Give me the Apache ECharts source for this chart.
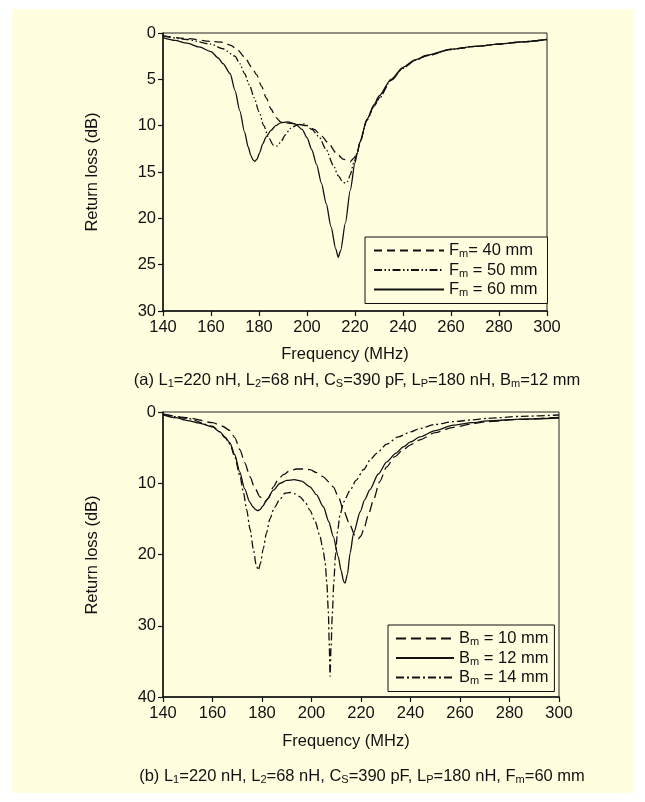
<!DOCTYPE html>
<html><head><meta charset="utf-8">
<script src="https://cdn.jsdelivr.net/npm/echarts@6/dist/echarts.min.js"></script>
<style>
html,body{margin:0;padding:0;background:#fff;}
#bg{position:absolute;left:12px;top:9px;width:621px;height:784px;background:#FFFFE0;}
#chart{position:absolute;left:0;top:0;width:645px;height:802px;}
</style></head><body>
<div id="bg"></div><div id="chart"></div>
<script>
// ---------- data: panel (a) ----------
const fm40Freq = [140,150,160,165,168,171,174,177,179,181,183,185,187,189,191,195,200,203,206,209,212,215,218,219.5,221,222,225,228,230,235,240,245,250,260,270,280,290,300];
const fm40Loss = [0.3,0.6,0.9,1.0,1.3,1.8,2.6,3.7,4.5,5.7,7.0,8.2,9.1,9.6,9.7,9.8,10.0,10.4,11.1,11.9,12.9,13.6,13.9,13.5,12.9,11.8,9.4,7.8,7.0,5.1,3.8,2.95,2.45,1.78,1.45,1.2,0.95,0.7];
const fm50Freq = [140,150,160,165,170,172,174,176,178,180,182,184,186,187.5,189,191,193,196,199,202,205,208,211,213,215,216,217,218,219.5,221,222,225,228,230,235,240,245,250,260,270,280,290,300];
const fm50Loss = [0.3,0.7,1.2,1.7,2.5,3.3,4.4,5.6,7.0,8.5,10.0,11.3,12.1,12.2,11.8,11.0,10.3,9.9,9.8,10.4,11.2,12.6,14.3,15.4,16.1,16.2,16.0,15.3,14.0,12.9,11.8,9.4,7.9,7.1,5.1,3.8,2.95,2.45,1.78,1.45,1.2,0.95,0.7];
const fm60Freq = [140,145,150,155,160,163,165,168,170,172,174,175.5,176.6,177.5,178.3,179.2,180.3,181.5,183,185,187,189,192,195,198,200,202,204,206,208,210,212,213,214,216,218,220,221,222,225,228,230,235,240,245,250,260,270,280,290,300];
const fm60Loss = [0.5,0.8,1.1,1.5,2.0,2.7,3.3,4.4,6.2,8.4,10.7,12.3,13.2,13.7,13.85,13.6,12.9,12.0,11.2,10.5,10.0,9.7,9.6,9.8,10.4,11.3,12.6,14.2,16.2,18.4,20.9,23.3,24.2,23.5,20.5,17.0,14.0,12.9,11.8,9.3,7.7,6.8,5.0,3.7,2.9,2.4,1.75,1.45,1.2,0.95,0.7];

// ---------- data: panel (b) ----------
const bm10Freq = [140,150,160,164,167.1,169,171.1,173,175.2,177,179.2,181.2,182.6,184.6,186.5,188.6,191,194,197,199.4,202,204.8,207,208.8,211,212.9,215.6,217.5,218.9,220,221,223,225,227.5,230.4,233.5,237.1,240,243.8,250,257.3,265,270.8,284.2,300];
const bm10Loss = [0.3,0.8,1.5,2.0,2.6,3.6,5.3,7.1,9.1,10.6,11.9,12.6,12.1,10.5,9.5,8.8,8.3,8.0,8.0,8.1,8.5,9.1,9.8,10.5,12.0,13.8,15.9,17.3,17.8,17.4,16.6,14.4,12.4,9.8,7.7,6.3,5.3,4.6,3.9,2.9,2.15,1.65,1.36,1.03,0.75];
const bm12Freq = [140,145,150,155,160,163,165,167,169,171,173,175,176.3,177.4,178.3,179.2,180.3,182,184.5,187.3,190,193,196,199.4,202,204.8,207,208.8,210.8,212,213,213.6,214.5,215.6,217,219.7,221.5,223.6,227,230.4,234,237.1,240,243.8,250,257.3,265,270.8,285,300];
const bm12Loss = [0.4,0.8,1.2,1.6,2.1,2.8,3.5,4.3,6.0,8.4,10.8,12.6,13.3,13.7,13.85,13.7,13.2,12.3,11.0,10.0,9.6,9.5,9.7,10.5,11.6,13.3,15.4,17.5,20.3,22.3,23.8,24.0,22.8,19.8,17.0,14.0,12.3,10.9,8.7,7.0,5.8,4.9,4.2,3.5,2.6,1.85,1.5,1.25,1.0,0.84];
const bm14Freq = [140,150,160,163,165,167.1,169,171.1,172.5,173.8,175.2,176.5,177.6,178.5,179.4,180.5,181.8,183.2,185,187.3,189.3,191.3,193.5,195.4,197.5,199.4,201.5,203.4,204.6,205.5,206.2,206.8,207.2,207.5,207.9,208.4,209,209.7,210.5,211.5,213,215.6,218,221,224,226.3,230.4,235,240,243.9,250,257.3,265,270.8,285,300];
const bm14Loss = [0.3,0.9,2.0,2.8,3.6,4.5,6.3,9.0,11.3,13.7,16.5,19.2,21.4,22.2,21.2,19.2,17.0,15.0,13.4,12.2,11.4,11.3,11.5,11.9,12.7,13.8,15.4,17.4,19.2,21.0,24.0,28.0,33.0,37.1,33.0,28.5,24.0,20.0,16.8,14.5,12.6,11.0,9.6,8.1,6.6,5.8,4.5,3.5,2.8,2.3,1.75,1.36,1.1,0.9,0.6,0.42];

// ---------- labels ----------
const xTitle = 'Frequency (MHz)';
const yTitle = 'Return loss (dB)';
const legendA = {Fm40: '{t|F}{s|m}{t|= 40 mm}', Fm50: '{t|F}{s|m}{t| = 50 mm}', Fm60: '{t|F}{s|m}{t| = 60 mm}'};
const legendB = {Bm10: '{t|B}{s|m}{t| = 10 mm}', Bm12: '{t|B}{s|m}{t| = 12 mm}', Bm14: '{t|B}{s|m}{t| = 14 mm}'};
const captionA = '{t|(a) L}{s|1}{t|=220 nH, L}{s|2}{t|=68 nH, C}{s|S}{t|=390 pF, L}{s|P}{t|=180 nH, B}{s|m}{t|=12 mm}';
const captionB = '{t|(b) L}{s|1}{t|=220 nH, L}{s|2}{t|=68 nH, C}{s|S}{t|=390 pF, L}{s|P}{t|=180 nH, F}{s|m}{t|=60 mm}';

const FONT = 'Liberation Sans, Arial, sans-serif';
const INK = '#111';
const zip = (a, b) => a.map((v, i) => [v, b[i]]);
const richText = {
  t: {fontSize: 16.5, lineHeight: 18, fontFamily: FONT, color: INK},
  s: {fontSize: 11, lineHeight: 10, verticalAlign: 'bottom', fontFamily: FONT, color: INK}
};
const capRich = {
  t: {fontSize: 16.5, lineHeight: 18, fontFamily: FONT, fill: INK, color: INK},
  s: {fontSize: 11, lineHeight: 10, verticalAlign: 'bottom', fontFamily: FONT, fill: INK, color: INK}
};

function xAx(gi) {
  return {
    type: 'value', gridIndex: gi, min: 140, max: 300, interval: 20,
    axisLine: {show: true, onZero: false, lineStyle: {color: INK, width: 1.5}},
    axisTick: {show: true, inside: false, length: 5, lineStyle: {color: INK, width: 1.2}},
    axisLabel: {color: INK, fontSize: 16.5, fontFamily: FONT, margin: 8},
    splitLine: {show: false}
  };
}
function yAx(gi, max, interval) {
  return {
    type: 'value', gridIndex: gi, min: 0, max: max, interval: interval, inverse: true,
    axisLine: {show: true, onZero: false, lineStyle: {color: INK, width: 1.5}},
    axisTick: {show: true, inside: false, length: 5, lineStyle: {color: INK, width: 1.2}},
    axisLabel: {color: INK, fontSize: 16.5, fontFamily: FONT, margin: 7},
    splitLine: {show: false}
  };
}
function line(name, gi, f, l, dash) {
  return {
    name: name, type: 'line', xAxisIndex: gi, yAxisIndex: gi,
    data: zip(f, l), symbol: 'none', showSymbol: false, smooth: 0.25, smoothMonotone: 'x',
    lineStyle: {color: INK, width: 1.3, type: dash},
    itemStyle: {color: INK},
    emphasis: {disabled: true}, animation: false
  };
}
function legend(names, map, left, top, itemWidth, pad) {
  return {
    data: names, orient: 'vertical', left: left, top: top,
    itemWidth: itemWidth, itemHeight: 14, itemGap: 2, padding: pad,
    borderColor: INK, borderWidth: 1, backgroundColor: '#FFFFE0',
    selectedMode: false,
    itemStyle: {color: 'rgba(0,0,0,0)', borderColor: 'rgba(0,0,0,0)', borderWidth: 0, opacity: 0},
    formatter: n => map[n],
    textStyle: {fontSize: 16.5, fontFamily: FONT, color: INK, rich: richText}
  };
}

const chart = echarts.init(document.getElementById('chart'), null, {renderer: 'canvas'});
chart.setOption({
  animation: false,
  backgroundColor: 'transparent',
  grid: [
    {left: 163, top: 33, width: 384, height: 278, show: true, borderColor: '#222', borderWidth: 1, backgroundColor: 'transparent', containLabel: false, outerBoundsMode: 'none'},
    {left: 163, top: 412, width: 396, height: 285, show: true, borderColor: '#222', borderWidth: 1, backgroundColor: 'transparent', containLabel: false, outerBoundsMode: 'none'}
  ],
  xAxis: [xAx(0), xAx(1)],
  yAxis: [yAx(0, 30, 5), yAx(1, 40, 10)],
  legend: [
    legend(['Fm40', 'Fm50', 'Fm60'], legendA, 365, 237, 70, [5, 10, 5, 8]),
    legend(['Bm10', 'Bm12', 'Bm14'], legendB, 388, 625, 58, [5, 6, 5, 7])
  ],
  series: [
    line('Fm40', 0, fm40Freq, fm40Loss, [8, 5]),
    line('Fm50', 0, fm50Freq, fm50Loss, [8, 2.5, 1.5, 2.5, 1.5, 2.5]),
    line('Fm60', 0, fm60Freq, fm60Loss, 'solid'),
    line('Bm10', 1, bm10Freq, bm10Loss, [10, 5]),
    line('Bm12', 1, bm12Freq, bm12Loss, 'solid'),
    line('Bm14', 1, bm14Freq, bm14Loss, [8, 3, 2, 3])
  ],
  graphic: [
    {type: 'text', x: 92, y: 172, rotation: Math.PI / 2, silent: true,
     style: {text: yTitle, fontSize: 16.5, fontFamily: FONT, fill: INK, align: 'center', verticalAlign: 'middle'}},
    {type: 'text', x: 92, y: 555, rotation: Math.PI / 2, silent: true,
     style: {text: yTitle, fontSize: 16.5, fontFamily: FONT, fill: INK, align: 'center', verticalAlign: 'middle'}},
    {type: 'text', x: 345, y: 354, silent: true,
     style: {text: xTitle, fontSize: 16.5, fontFamily: FONT, fill: INK, align: 'center', verticalAlign: 'middle'}},
    {type: 'text', x: 346, y: 741, silent: true,
     style: {text: xTitle, fontSize: 16.5, fontFamily: FONT, fill: INK, align: 'center', verticalAlign: 'middle'}},
    {type: 'text', x: 357, y: 380, silent: true,
     style: {text: captionA, rich: capRich, fill: INK, align: 'center', verticalAlign: 'middle'}},
    {type: 'text', x: 362, y: 776, silent: true,
     style: {text: captionB, rich: capRich, fill: INK, align: 'center', verticalAlign: 'middle'}}
  ]
});
</script>
</body></html>
